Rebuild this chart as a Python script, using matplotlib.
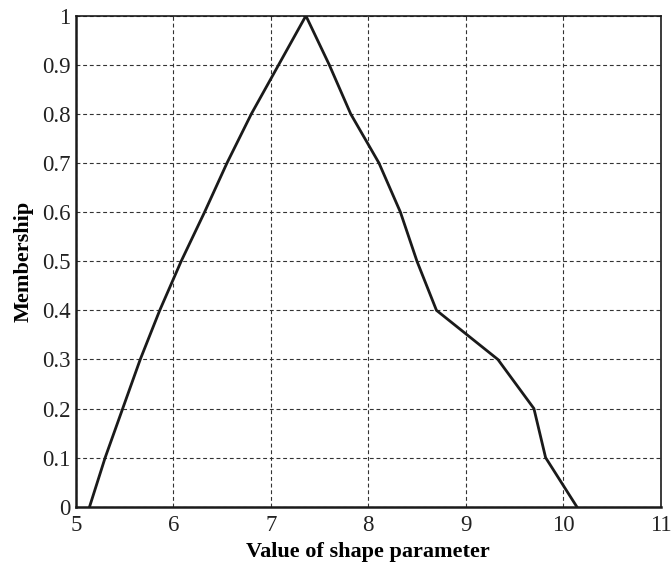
import matplotlib
matplotlib.use("Agg")
import matplotlib.pyplot as plt

# Membership function of the shape parameter
shape_value = [5.14, 5.30, 5.48, 5.66, 5.86, 6.08, 6.32, 6.55, 6.80, 7.08, 7.36,
               7.60, 7.82, 8.11, 8.33, 8.50, 8.70, 9.33, 9.70, 9.82, 10.14]
membership = [0.0, 0.1, 0.2, 0.3, 0.4, 0.5, 0.6, 0.7, 0.8, 0.9, 1.0,
              0.9, 0.8, 0.7, 0.6, 0.5, 0.4, 0.3, 0.2, 0.1, 0.0]

x_ticks = [5, 6, 7, 8, 9, 10, 11]
y_ticks = [0, 0.1, 0.2, 0.3, 0.4, 0.5, 0.6, 0.7, 0.8, 0.9, 1]
y_tick_labels = ["0", "0.1", "0.2", "0.3", "0.4", "0.5", "0.6", "0.7", "0.8", "0.9", "1"]

plt.rcParams["font.family"] = ["Liberation Serif", "DejaVu Serif"]

fig = plt.figure(figsize=(6.72, 5.63), dpi=100)
ax = fig.add_axes([0.113, 0.100, 0.870, 0.872])

ax.plot(shape_value, membership, color="#1a1a1a", linewidth=2.0, solid_joinstyle="miter")

ax.set_xlim(5, 11)
ax.set_ylim(0, 1)
ax.set_xticks(x_ticks)
ax.set_xticklabels([str(v) for v in x_ticks])
ax.set_yticks(y_ticks)
ax.set_yticklabels(y_tick_labels)

ax.grid(True, color="#333333", linestyle=(0, (3.5, 2.5)), linewidth=0.8)
ax.tick_params(axis="both", which="both", length=0, labelsize=16.5, colors="#222222")
ax.tick_params(axis="y", pad=4)
ax.tick_params(axis="x", pad=6)

for side in ["left", "bottom"]:
    ax.spines[side].set_linewidth(1.8)
    ax.spines[side].set_color("#1a1a1a")
for side in ["top", "right"]:
    ax.spines[side].set_linewidth(1.2)
    ax.spines[side].set_color("#1a1a1a")

ax.set_xlabel("Value of shape parameter", fontsize=16, fontweight="bold", labelpad=4)
ax.set_ylabel("Membership", fontsize=16, fontweight="bold", labelpad=6)

fig.savefig("out.png", dpi=100)
